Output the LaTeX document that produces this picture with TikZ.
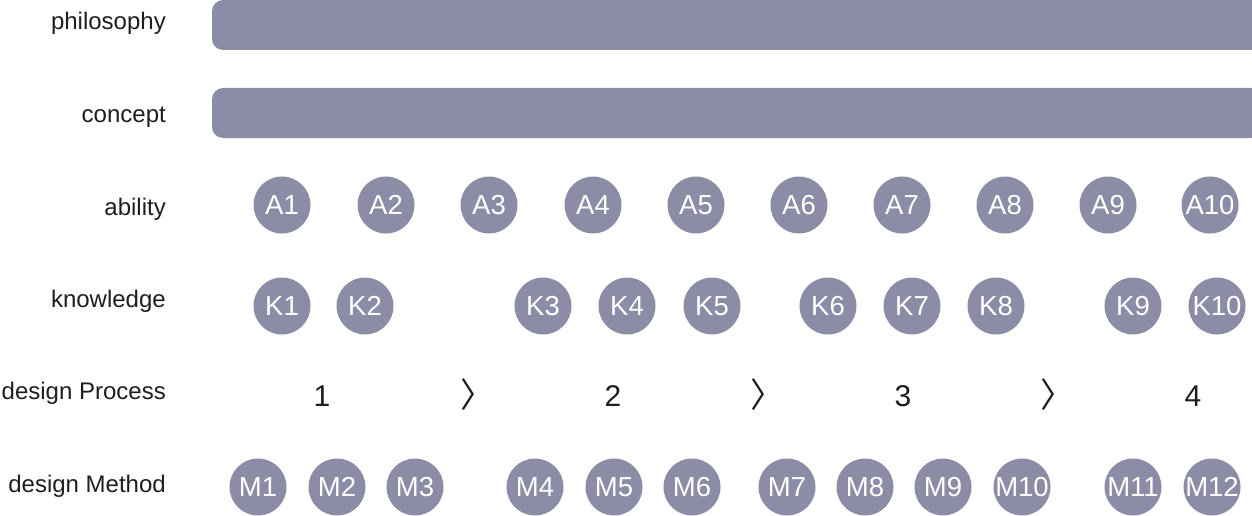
\documentclass[tikz,border=0pt]{standalone}
\usepackage{fontspec}
\setmainfont{Liberation Sans}
\newfontfamily\cjk{Noto Sans CJK KR}
\definecolor{dot}{HTML}{8C8CA6}
\definecolor{ink}{HTML}{1E1E1E}
\begin{document}
\begin{tikzpicture}[x=1pt,y=-1pt,
  rowlabel/.style={anchor=east,text=ink,font=\fontsize{24}{26}\selectfont,inner sep=0pt},
  bar/.style={fill=dot,rounded corners=11pt,draw=none},
  circ/.style={circle,fill=dot,minimum size=57pt,inner sep=0pt,text=white,
    text height=19pt,text depth=0pt,font=\fontsize{27.5}{28}\selectfont},
  num/.style={text=ink,font=\fontsize{30}{32}\selectfont,inner sep=0pt},
  chev/.style={text=ink,font=\cjk\fontsize{34}{36}\selectfont,inner sep=0pt}]
\useasboundingbox (0,0) rectangle (1252,516);
% row labels
\node[rowlabel] (lphil) at (166,23) {philosophy};
\node[rowlabel] (lconc) at (166,117) {concept};
\node[rowlabel] (labil) at (166,209) {ability};
\node[rowlabel] (lknow) at (166,301) {knowledge};
\node[rowlabel] (lproc) at (166,393) {design Process};
\node[rowlabel] (lmeth) at (166,486) {design Method};
% bars
\fill[bar] (212,0) rectangle (1262,50);
\fill[bar] (212,88) rectangle (1262,138);
% ability
\foreach \i/\x in {1/282,2/386,3/489,4/593,5/696,6/799,7/902,8/1005,9/1108,10/1210}
  \node[circ] (A\i) at (\x,205) {A\i};
% knowledge
\foreach \i/\x in {1/282,2/365,3/543,4/627,5/712,6/828,7/912,8/996,9/1133,10/1217}
  \node[circ] (K\i) at (\x,306) {K\i};
% process
\node[num] (P1) at (322,396) {1};
\node[num] (P2) at (613,396) {2};
\node[num] (P3) at (903,396) {3};
\node[num] (P4) at (1193,396) {4};
\node[chev] (C1) at (477,395) {〉};
\node[chev] (C2) at (767,395) {〉};
\node[chev] (C3) at (1057,395) {〉};
% methods
\foreach \i/\x in {1/258,2/337,3/415,4/535,5/614,6/692,7/787,8/865,9/943,10/1022,11/1133,12/1212}
  \node[circ] (M\i) at (\x,487) {M\i};
\end{tikzpicture}
\end{document}
